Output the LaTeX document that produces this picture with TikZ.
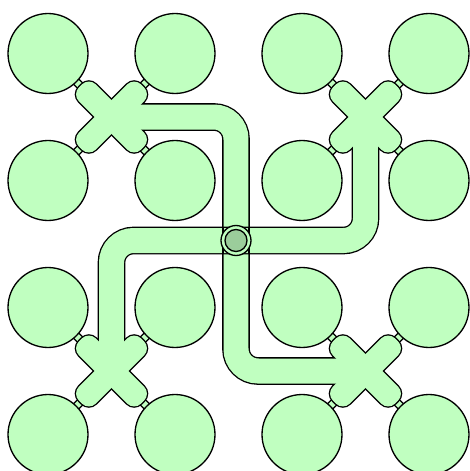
\documentclass[tikz,border=0pt]{standalone}
\usetikzlibrary{calc}
\definecolor{padgreen}{RGB}{192,255,192}
\definecolor{viagreen}{RGB}{155,205,155}
\tikzset{
    pad/.style={fill=padgreen, draw=black, line width=0.75pt},
    edge/.style={draw=black, line width=1.5pt},
    pics/cross/.style={
      code={
        \begin{scope}[rotate=45, rounded corners=0.2cm]
          \path[#1] (-44,-12) rectangle (44,12);
          \path[#1] (-12,-44) rectangle (12,44);
        \end{scope}
      }
    }
  }
\tikzset{
    trace/.style={line width=#1, rounded corners=0.44cm},
    traceline/.style={trace=0.5cm+1.5pt, draw=black},
    tracefill/.style={trace=0.5cm, draw=padgreen}
  }

\begin{document}
\begin{tikzpicture}[x=0.02cm, y=-0.02cm]
    \useasboundingbox (0,0) rectangle (470,471);

    \coordinate (xTL) at (111.5,117);
    \coordinate (xTR) at (365.5,117);
    \coordinate (xBL) at (111.5,371);
    \coordinate (xBR) at (365.5,371);
    \coordinate (via) at (236,240.5);

    \foreach \c in {xTL,xTR,xBL,xBR} {
      \foreach \dx/\dy in {1/1,1/-1,-1/1,-1/-1} {
        \draw[line width=0.12cm+1.5pt] (\c) -- ($(\c)+(63.5*\dx,63.5*\dy)$);
        \draw[line width=0.12cm, padgreen] (\c) -- ($(\c)+(63.5*\dx,63.5*\dy)$);
      }
    }

    \draw[traceline] (xTL) -- (via |- xTL) -- (via |- xBR) -- (xBR);
    \draw (xTL) pic{cross={edge}};
    \draw (xBR) pic{cross={edge}};
    \draw[tracefill] (xTL) -- (via |- xTL) -- (via |- xBR) -- (xBR);
    \draw (xTL) pic{cross={fill=padgreen}};
    \draw (xBR) pic{cross={fill=padgreen}};

    \draw[traceline] (xTR) -- (xTR |- via) -- (xBL |- via) -- (xBL);
    \draw (xTR) pic{cross={edge}};
    \draw (xBL) pic{cross={edge}};
    \draw[tracefill] (xTR) -- (xTR |- via) -- (xBL |- via) -- (xBL);
    \draw (xTR) pic{cross={fill=padgreen}};
    \draw (xBL) pic{cross={fill=padgreen}};

    \draw[line width=0.75pt] ($(via)+(-13.1,-13.5)$) -- ($(via)+(-13.1,13.5)$);
    \draw[line width=0.75pt] ($(via)+(13.1,-13.5)$) -- ($(via)+(13.1,13.5)$);

    \filldraw[pad] (via) circle (0.3cm);
    \filldraw[pad, fill=viagreen] (via) circle (0.22cm);

    \foreach \i in {0,...,3} {
      \foreach \j in {0,...,3} {
        \filldraw[pad] (48+127*\i, 53.5+127*\j) circle (0.8cm);
      }
    }
  \end{tikzpicture}
\end{document}
